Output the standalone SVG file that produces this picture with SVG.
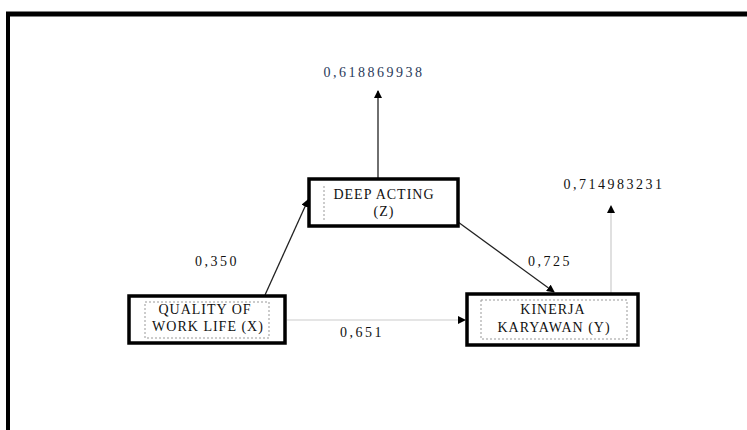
<svg xmlns="http://www.w3.org/2000/svg" width="747" height="430" viewBox="0 0 747 430">
<style>
.box{fill:#fff;stroke:#000;stroke-width:3.5}
.inner{fill:none;stroke:#999;stroke-width:1;stroke-dasharray:2 2}
.lbl{font-family:"Liberation Serif",serif;font-size:14px;letter-spacing:1px;fill:#111;text-anchor:middle}
.val{font-family:"Liberation Serif",serif;font-size:14px;letter-spacing:2.5px;fill:#111;text-anchor:middle}
.edge{stroke:#222;stroke-width:1.3;fill:none}
.faint{stroke:#ccc;stroke-width:1.2;fill:none}
</style>
<defs>
<marker id="ah" markerWidth="8" markerHeight="8" refX="7" refY="4" orient="auto" markerUnits="userSpaceOnUse">
<path d="M0,0 L8,4 L0,8 z" fill="#000"/>
</marker>
</defs>
<rect width="747" height="430" fill="#fff"/>
<g id="frame">
<line x1="6" y1="14" x2="747" y2="14" stroke="#000" stroke-width="5"/>
<line x1="8" y1="12" x2="8" y2="430" stroke="#000" stroke-width="4"/>
</g>
<g id="connectors">
<line class="edge" x1="378" y1="178" x2="378" y2="91" marker-end="url(#ah)"/>
<line class="edge" x1="265" y1="295" x2="308" y2="200" marker-end="url(#ah)"/>
<line class="edge" x1="458" y1="222" x2="554" y2="292" marker-end="url(#ah)"/>
<line class="faint" x1="287" y1="320" x2="465" y2="320" marker-end="url(#ah)"/>
<line class="faint" x1="611" y1="293" x2="611" y2="206" marker-end="url(#ah)"/>
<text class="val" x="374" y="77" style="fill:#2a3a5a">0,618869938</text>
<text class="val" x="614" y="189">0,714983231</text>
<text class="val" x="217" y="266">0,350</text>
<text class="val" x="550" y="266">0,725</text>
<text class="val" x="362" y="337">0,651</text>
</g>
<g id="deep-acting">
<rect class="box" x="309" y="179" width="149" height="47"/>
<line class="inner" x1="324" y1="186" x2="324" y2="220"/>
<text class="lbl" x="384" y="199">DEEP ACTING</text>
<text class="lbl" x="384" y="216">(Z)</text>
</g>
<g id="quality">
<rect class="box" x="129" y="296" width="156" height="47"/>
<rect class="inner" x="145" y="302" width="124" height="36"/>
<text class="lbl" x="205" y="314">QUALITY OF</text>
<text class="lbl" x="208" y="331">WORK LIFE (X)</text>
</g>
<g id="kinerja">
<rect class="box" x="467" y="294" width="171" height="51"/>
<rect class="inner" x="481" y="300" width="146" height="39"/>
<text class="lbl" x="553" y="314">KINERJA</text>
<text class="lbl" x="554" y="332">KARYAWAN (Y)</text>
</g>
</svg>
